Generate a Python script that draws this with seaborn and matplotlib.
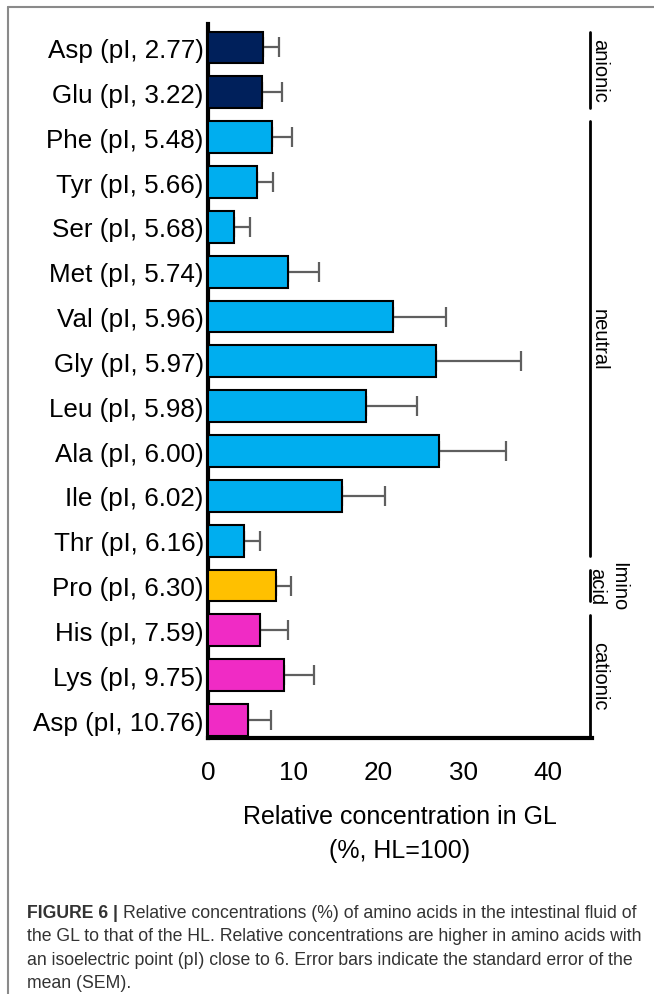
import numpy as np
import pandas as pd
import matplotlib
matplotlib.use("Agg")
import matplotlib.pyplot as plt
from matplotlib.lines import Line2D
import seaborn as sns

amino_acids = ["Asp", "Glu", "Phe", "Tyr", "Ser", "Met", "Val", "Gly",
               "Leu", "Ala", "Ile", "Thr", "Pro", "His", "Lys", "Asp"]
pi_values = ["2.77", "3.22", "5.48", "5.66", "5.68", "5.74", "5.96", "5.97",
             "5.98", "6.00", "6.02", "6.16", "6.30", "7.59", "9.75", "10.76"]
rel_conc = [6.5, 6.35, 7.5, 5.8, 3.1, 9.4, 21.8, 26.8,
            18.6, 27.1, 15.8, 4.25, 8.05, 6.15, 8.9, 4.75]
sem = [1.9, 2.4, 2.35, 1.8, 1.85, 3.7, 6.2, 10.0,
       6.0, 7.9, 5.0, 1.85, 1.7, 3.3, 3.6, 2.65]
groups = ["anionic"] * 2 + ["neutral"] * 10 + ["Imino\nacid"] + ["cationic"] * 3
group_order = ["anionic", "neutral", "Imino\nacid", "cationic"]
palette = {"anionic": "#00205B", "neutral": "#00AEEF",
           "Imino\nacid": "#FFC000", "cationic": "#F02BC5"}
x_ticks = [0, 10, 20, 30, 40]

df = pd.DataFrame({
    "label": [f"{a} (pI, {p})" for a, p in zip(amino_acids, pi_values)],
    "value": rel_conc,
    "sem": sem,
    "group": groups,
})

sns.set_style("white")
plt.rcParams["font.family"] = ["Liberation Sans", "DejaVu Sans"]
plt.rcParams["text.color"] = "black"
plt.rcParams["xtick.color"] = "black"
plt.rcParams["ytick.color"] = "black"
plt.rcParams["axes.labelcolor"] = "black"

W, H = 654, 995
fig = plt.figure(figsize=(W / 100, H / 100), dpi=100)
ax = fig.add_axes([208 / W, 1 - 739 / H, (591.7 - 208) / W, (739 - 25) / H])

sns.barplot(data=df, x="value", y="label", hue="group", hue_order=group_order,
            palette=palette, saturation=1, dodge=False, width=0.71,
            edgecolor="black", linewidth=1.5, legend=False, errorbar=None, ax=ax)
for p in ax.patches:
    p.set_zorder(3)

ypos = np.arange(len(df))
ax.errorbar(df["value"], ypos, xerr=[np.zeros(len(df)), df["sem"]], fmt="none",
            ecolor="#5f5f5f", elinewidth=1.6, capsize=7.5, capthick=1.6, zorder=2)

ax.set_xlim(0, 45.1)
ax.set_ylim(len(df) - 1 + 0.40, -0.524)
ax.set_xticks(x_ticks)
ax.set_xticklabels([str(t) for t in x_ticks])
ax.set_ylabel("")
ax.set_xlabel("Relative concentration in GL\n(%, HL=100)", fontsize=18,
              linespacing=1.55, labelpad=14)

for s in ["top", "right"]:
    ax.spines[s].set_visible(False)
for s in ["left", "bottom"]:
    ax.spines[s].set_linewidth(3)
    ax.spines[s].set_color("black")
ax.tick_params(axis="y", length=0, pad=3, labelsize=18.7)
ax.tick_params(axis="x", length=7, width=3, direction="out", pad=9, labelsize=18.8)

# group brackets on the right
for g in group_order:
    idx = df.index[df["group"] == g]
    y0, y1 = idx.min() - 0.35, idx.max() + 0.35
    ax.plot([44.85, 44.85], [y0, y1], color="black", lw=2, clip_on=False)
    ax.text(45.35, (idx.min() + idx.max()) / 2, g, rotation=270,
            rotation_mode="anchor", ha="center", va="baseline",
            fontsize=14.5, linespacing=1.15, clip_on=False)

# frame lines of the figure panel
fig.add_artist(Line2D([8 / W, 8 / W], [0, 1 - 8 / H], color="#8a8a8a", lw=1.5))
fig.add_artist(Line2D([8 / W, 1], [1 - 8 / H, 1 - 8 / H], color="#8a8a8a", lw=1.5))

# caption
cap_lines = [
    "Relative concentrations (%) of amino acids in the intestinal fluid of",
    "the GL to that of the HL. Relative concentrations are higher in amino acids with",
    "an isoelectric point (pI) close to 6. Error bars indicate the standard error of the",
    "mean (SEM).",
]
cap_y = [913, 937, 961, 984]
cap_x = 27 / W
cap_size = 12.7
cap_color = "#333333"
fig.canvas.draw()
renderer = fig.canvas.get_renderer()
bold = fig.text(cap_x, 1 - cap_y[0] / H, "FIGURE 6 | ", fontsize=cap_size,
                fontweight="bold", color=cap_color, va="center")
bw = bold.get_window_extent(renderer).width / W
fig.text(cap_x + bw, 1 - cap_y[0] / H, cap_lines[0], fontsize=cap_size,
         color=cap_color, va="center")
for line, yy in zip(cap_lines[1:], cap_y[1:]):
    fig.text(cap_x, 1 - yy / H, line, fontsize=cap_size, color=cap_color, va="center")

fig.savefig("out.png", dpi=100)
